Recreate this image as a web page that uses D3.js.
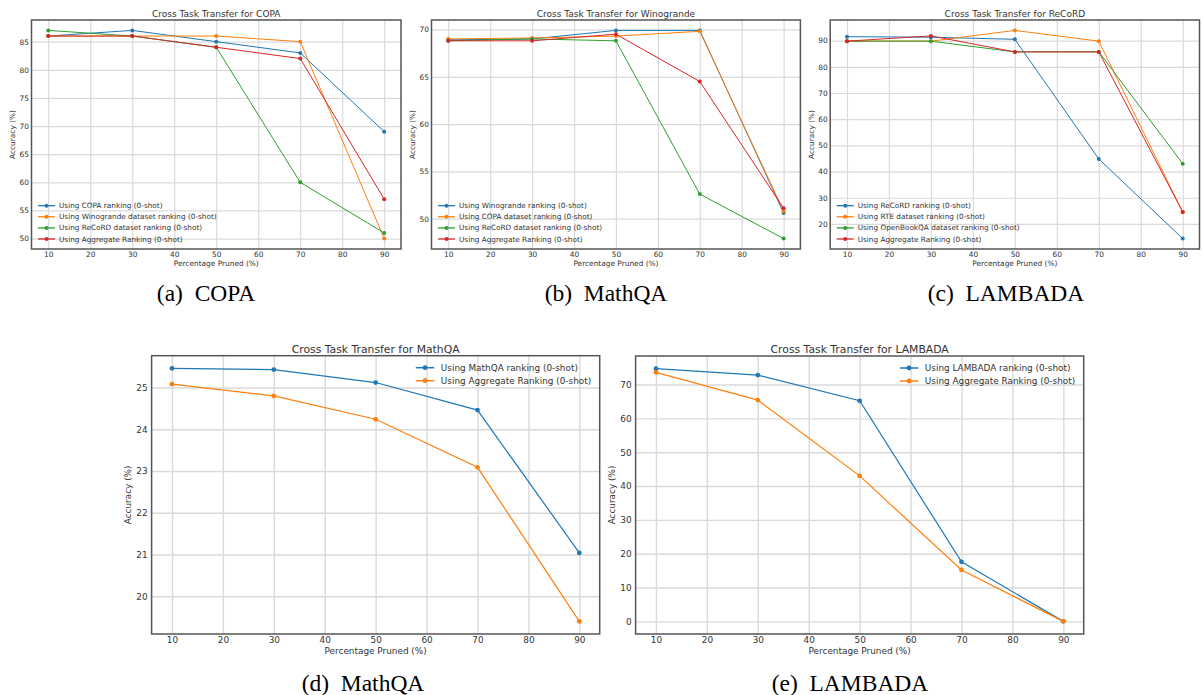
<!DOCTYPE html>
<html>
<head>
<meta charset="utf-8">
<script src="https://cdn.jsdelivr.net/npm/d3@7"></script>
<style>
  html, body { margin: 0; padding: 0; background: #fff; }
  svg { display: block; font-family: "DejaVu Sans", sans-serif; }
  .caption { font-family: "Liberation Serif", "Times New Roman", serif; white-space: pre; fill: #000; }
</style>
</head>
<body>
<svg id="fig" width="1202" height="695"></svg>
<script>
const width = 1202;
const height = 695;
const BLUE = '#1f77b4', ORANGE = '#ff7f0e', GREEN = '#2ca02c', RED = '#d62728';

// x values shared by every panel
const prunedPct = [10, 30, 50, 70, 90];
const xTicks = [10, 20, 30, 40, 50, 60, 70, 80, 90];

// (a) COPA
const copaOwn = [86, 87, 85, 83, 69];
const copaFromWinogrande = [86, 86, 86, 85, 50];
const copaFromRecord = [87, 86, 84, 60, 51];
const copaAggregate = [86, 86, 84, 82, 57];
const copaTicks = [50, 55, 60, 65, 70, 75, 80, 85];

// (b) Winogrande
const winoOwn = [68.9, 69.0, 69.9, 69.9, 50.6];
const winoFromCopa = [69.0, 69.1, 69.3, 69.8, 50.8];
const winoFromRecord = [68.8, 69.0, 68.8, 52.6, 47.9];
const winoAggregate = [68.8, 68.8, 69.5, 64.5, 51.1];
const winoTicks = [50, 55, 60, 65, 70];

// (c) ReCoRD
const recordOwn = [91.5, 91.3, 90.5, 44.8, 14.4];
const recordFromRte = [89.8, 89.8, 93.9, 89.8, 24.5];
const recordFromObqa = [89.8, 89.8, 85.7, 85.7, 43.0];
const recordAggregate = [89.8, 91.8, 85.7, 85.7, 24.6];
const recordTicks = [20, 30, 40, 50, 60, 70, 80, 90];

// (d) MathQA
const mathqaOwn = [25.46, 25.43, 25.12, 24.46, 21.04];
const mathqaAggregate = [25.08, 24.80, 24.24, 23.09, 19.40];
const mathqaTicks = [20, 21, 22, 23, 24, 25];

// (e) LAMBADA
const lambadaOwn = [74.7, 72.8, 65.2, 17.6, 0];
const lambadaAggregate = [73.6, 65.4, 43.0, 15.2, 0];
const lambadaTicks = [0, 10, 20, 30, 40, 50, 60, 70];

const SMALL = { tick: 7.4, label: 7.4, title: 9, legend: 7.3, lw: 1, r: 2, rowH: 11.1, handle: 17, gap: 4, grid: 1.2, ylab: 16.5, xlab: 16.8, tpad: 2.5 };
const LARGE = { tick: 8.9, label: 8.9, title: 10.8, legend: 8.9, lw: 1.2, r: 2.4, rowH: 13, handle: 18.5, gap: 6.5, grid: 1.4, ylab: 20.3, xlab: 19.5, tpad: 4 };

const panels = [
  { title: 'Cross Task Transfer for COPA', caption: '(a)  COPA', box: [31.5, 20, 401, 249],
    yTicks: copaTicks, sz: SMALL, legend: 'lower left', cap: [206, 301],
    series: [
      { name: 'Using COPA ranking (0-shot)', values: copaOwn, color: BLUE },
      { name: 'Using Winogrande dataset ranking (0-shot)', values: copaFromWinogrande, color: ORANGE },
      { name: 'Using ReCoRD dataset ranking (0-shot)', values: copaFromRecord, color: GREEN },
      { name: 'Using Aggregate Ranking (0-shot)', values: copaAggregate, color: RED }
    ] },
  { title: 'Cross Task Transfer for Winogrande', caption: '(b)  MathQA', box: [431.5, 20, 800.4, 249],
    yTicks: winoTicks, sz: SMALL, legend: 'lower left', cap: [606, 301],
    series: [
      { name: 'Using Winogrande ranking (0-shot)', values: winoOwn, color: BLUE },
      { name: 'Using COPA dataset ranking (0-shot)', values: winoFromCopa, color: ORANGE },
      { name: 'Using ReCoRD dataset ranking (0-shot)', values: winoFromRecord, color: GREEN },
      { name: 'Using Aggregate Ranking (0-shot)', values: winoAggregate, color: RED }
    ] },
  { title: 'Cross Task Transfer for ReCoRD', caption: '(c)  LAMBADA', box: [830.2, 20, 1199.5, 249],
    yTicks: recordTicks, sz: SMALL, legend: 'lower left', cap: [1006, 301],
    series: [
      { name: 'Using ReCoRD ranking (0-shot)', values: recordOwn, color: BLUE },
      { name: 'Using RTE dataset ranking (0-shot)', values: recordFromRte, color: ORANGE },
      { name: 'Using OpenBookQA dataset ranking (0-shot)', values: recordFromObqa, color: GREEN },
      { name: 'Using Aggregate Ranking (0-shot)', values: recordAggregate, color: RED }
    ] },
  { title: 'Cross Task Transfer for MathQA', caption: '(d)  MathQA', box: [151.6, 355.7, 599.7, 634],
    yTicks: mathqaTicks, sz: LARGE, legend: 'upper right', cap: [363, 691],
    series: [
      { name: 'Using MathQA ranking (0-shot)', values: mathqaOwn, color: BLUE },
      { name: 'Using Aggregate Ranking (0-shot)', values: mathqaAggregate, color: ORANGE }
    ] },
  { title: 'Cross Task Transfer for LAMBADA', caption: '(e)  LAMBADA', box: [635.6, 356, 1083.7, 634],
    yTicks: lambadaTicks, sz: LARGE, legend: 'upper right', cap: [850, 691],
    series: [
      { name: 'Using LAMBADA ranking (0-shot)', values: lambadaOwn, color: BLUE },
      { name: 'Using Aggregate Ranking (0-shot)', values: lambadaAggregate, color: ORANGE }
    ] }
];

const svg = d3.select('#fig');

const drawPanel = p => {
  const [x0, y0, x1, y1] = p.box;
  const sz = p.sz;
  const g = svg.append('g');

  // matplotlib-like 5% margins
  const all = p.series.flatMap(s => s.values);
  const [lo, hi] = d3.extent(all);
  const pad = (hi - lo) * 0.05;
  const x = d3.scaleLinear().domain([6, 94]).range([x0, x1]);
  const y = d3.scaleLinear().domain([lo - pad, hi + pad]).range([y1, y0]);

  // grid + tick labels
  const xAxis = d3.axisBottom(x).tickValues(xTicks).tickFormat(d3.format('d'))
    .tickSize(-(y1 - y0)).tickPadding(3);
  const yAxis = d3.axisLeft(y).tickValues(p.yTicks).tickFormat(d3.format('d'))
    .tickSize(-(x1 - x0)).tickPadding(sz.tpad);

  const gx = g.append('g').attr('transform', `translate(0,${y1})`).call(xAxis);
  const gy = g.append('g').attr('transform', `translate(${x0},0)`).call(yAxis);
  [gx, gy].forEach(a => {
    a.select('.domain').remove();
    a.selectAll('.tick line').attr('stroke', '#dadada').attr('stroke-width', sz.grid);
    a.selectAll('.tick text').attr('fill', '#333').style('font-size', sz.tick + 'px')
      .style('font-family', '"DejaVu Sans", sans-serif');
  });

  // frame
  g.append('rect')
    .attr('x', x0).attr('y', y0)
    .attr('width', x1 - x0).attr('height', y1 - y0)
    .attr('fill', 'none').attr('stroke', '#555').attr('stroke-width', 1.5);

  // series
  const line = d3.line().x((d, i) => x(prunedPct[i])).y(d => y(d));
  p.series.forEach(s => {
    g.append('path').datum(s.values)
      .attr('d', line).attr('fill', 'none')
      .attr('stroke', s.color).attr('stroke-width', sz.lw);
    g.selectAll(null).data(s.values).enter().append('circle')
      .attr('cx', (d, i) => x(prunedPct[i])).attr('cy', d => y(d))
      .attr('r', sz.r).attr('fill', s.color);
  });

  // title and axis labels
  g.append('text').attr('x', (x0 + x1) / 2).attr('y', y0 - 3.2)
    .attr('text-anchor', 'middle').attr('fill', '#333').style('font-size', sz.title + 'px')
    .text(p.title);
  g.append('text').attr('x', (x0 + x1) / 2).attr('y', y1 + sz.xlab)
    .attr('text-anchor', 'middle').attr('fill', '#333').style('font-size', sz.label + 'px')
    .text('Percentage Pruned (%)');
  g.append('text')
    .attr('transform', `translate(${x0 - sz.ylab},${(y0 + y1) / 2}) rotate(-90)`)
    .attr('text-anchor', 'middle').attr('fill', '#333').style('font-size', sz.label + 'px')
    .text('Accuracy (%)');

  // legend
  const lg = g.append('g');
  const rows = lg.selectAll('g').data(p.series).enter().append('g')
    .attr('transform', (d, i) => `translate(0,${i * sz.rowH})`);
  rows.append('line').attr('x1', 0).attr('x2', sz.handle)
    .attr('stroke', d => d.color).attr('stroke-width', sz.lw + 0.3);
  rows.append('circle').attr('cx', sz.handle / 2).attr('r', sz.r).attr('fill', d => d.color);
  const labels = rows.append('text').attr('x', sz.handle + sz.gap).attr('dy', '0.35em')
    .attr('fill', '#333').style('font-size', sz.legend + 'px').text(d => d.name);

  if (p.legend === 'lower left') {
    const n = p.series.length;
    lg.attr('transform', `translate(${x0 + 6.5},${y1 - 10 - (n - 1) * sz.rowH})`);
  } else {
    const w = d3.max(labels.nodes(), nd => nd.getComputedTextLength()) + sz.handle + sz.gap;
    lg.attr('transform', `translate(${x1 - 8.5 - w},${y0 + 12})`);
  }

  // caption below the subplot
  svg.append('text').attr('class', 'caption')
    .attr('x', p.cap[0]).attr('y', p.cap[1])
    .attr('text-anchor', 'middle').style('font-size', '23.5px')
    .text(p.caption);
};

panels.forEach(drawPanel);
</script>
</body>
</html>
